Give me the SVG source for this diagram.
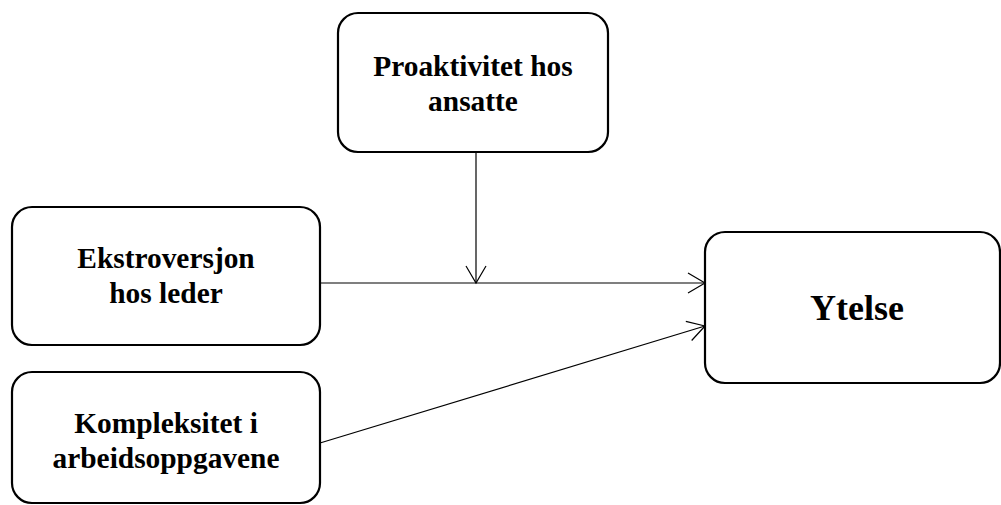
<svg xmlns="http://www.w3.org/2000/svg" width="1001" height="505" viewBox="0 0 1001 505">
<defs>
<style>
.box{fill:#fff;stroke:#000;stroke-width:2.2}
.t{font-family:"Liberation Serif","Times New Roman",serif;font-weight:bold;font-size:29.4px;text-anchor:middle;fill:#000}
.big{font-size:36px}
.c{stroke:#000;stroke-width:1.2;fill:none}
</style>
<marker id="arr" markerUnits="userSpaceOnUse" markerWidth="20" markerHeight="22" viewBox="0 0 20 22" refX="18" refY="11" orient="auto">
<path d="M1,1 L18,11 L1,21" fill="none" stroke="#000" stroke-width="1.2"/>
</marker>
</defs>
<rect width="1001" height="505" fill="#fff"/>
<g id="connectors">
<line class="c" x1="320" y1="283" x2="705" y2="283" marker-end="url(#arr)"/>
<line class="c" x1="476" y1="152" x2="476" y2="283" marker-end="url(#arr)"/>
<line class="c" x1="320" y1="443" x2="705" y2="326" marker-end="url(#arr)"/>
</g>
<g id="proaktivitet">
<rect class="box" x="338" y="13" width="270" height="139" rx="20"/>
<text class="t" x="473" y="76">Proaktivitet hos</text>
<text class="t" x="473" y="111">ansatte</text>
</g>
<g id="ekstroversjon">
<rect class="box" x="12" y="207" width="308" height="138" rx="20"/>
<text class="t" x="166" y="268">Ekstroversjon</text>
<text class="t" x="166" y="303">hos leder</text>
</g>
<g id="kompleksitet">
<rect class="box" x="12" y="372" width="308" height="131" rx="20"/>
<text class="t" x="166" y="433">Kompleksitet i</text>
<text class="t" x="166" y="468">arbeidsoppgavene</text>
</g>
<g id="ytelse">
<rect class="box" x="705" y="232" width="295" height="151" rx="20"/>
<text class="t big" x="857" y="320">Ytelse</text>
</g>
</svg>
